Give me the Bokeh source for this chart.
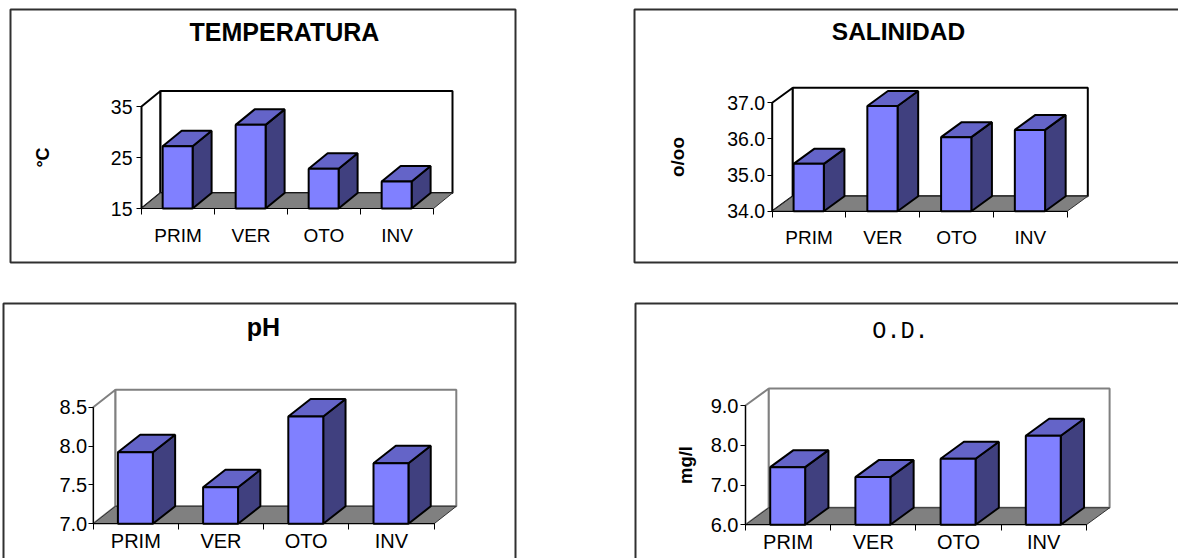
from bokeh.plotting import figure
from bokeh.layouts import column, row
from bokeh.models import Range1d, FixedTicker, BoxAnnotation, Label, ColumnDataSource, PrintfTickFormatter
from bokeh.embed import file_html
from bokeh.resources import INLINE

# ---------------- data ----------------
categories = ["PRIM", "VER", "OTO", "INV"]
temperatura = [27.2, 31.4, 22.8, 20.3]
salinidad = [35.31, 36.91, 36.05, 36.25]
ph = [7.92, 7.47, 8.38, 7.78]
oxigeno = [7.45, 7.20, 7.66, 8.24]
temp_ticks = [15, 25, 35]
sal_ticks = [34.0, 35.0, 36.0, 37.0]
ph_ticks = [7.0, 7.5, 8.0, 8.5]
od_ticks = [6.0, 7.0, 8.0, 9.0]

# ---------------- styles ----------------
FRONT = "#8080FF"
TOP = "#6464C8"
SIDE = "#40407F"
FLOOR = "#808080"
BAR_L, BAR_R = 0.29, 0.70
SANS = "Liberation Sans"
MONO = "Liberation Mono"


def make_panel(values, ticks, fmt, cfg):
    W, H = cfg["W"], cfg["H"]
    ox, oy = cfg["origin"]
    ax = cfg["axis_x"] - ox          # canvas x of front y-axis
    fy = cfg["floor_y"] - oy         # canvas y of floor front edge
    ymin, ymax = ticks[0], ticks[-1]
    unit_px = (cfg["floor_y"] - cfg["ytop_y"]) / (ymax - ymin)
    cat_px = cfg["cat_px"]
    x_range = Range1d(-ax / cat_px, (W - ax) / cat_px)
    y_range = Range1d(ymin - (H - fy) / unit_px, ymin + fy / unit_px)
    n = len(categories)
    DX = cfg["dx"] / cat_px
    DY = cfg["dy"] / unit_px

    p = figure(width=W, height=H, x_range=x_range, y_range=y_range,
               output_backend="svg", toolbar_location=None,
               min_border_left=0, min_border_right=0, min_border_top=0, min_border_bottom=0,
               outline_line_color=None, background_fill_color="white", border_fill_color="white")
    p.grid.visible = False

    wall = cfg["wall"]
    # side wall, back wall, floor
    p.patch([0, 0, DX, DX], [ymin, ymax, ymax + DY, ymin + DY],
            fill_color="white", line_color=wall, line_width=2)
    p.quad(left=[DX], right=[n + DX], bottom=[ymin + DY], top=[ymax + DY],
           fill_color="white", line_color=wall, line_width=2)
    p.patch([0, n, n + DX, DX], [ymin, ymin, ymin + DY, ymin + DY],
            fill_color=FLOOR, line_color="#303030", line_width=1)

    # bars
    lefts = [i + BAR_L for i in range(n)]
    rights = [i + BAR_R for i in range(n)]
    front = ColumnDataSource(dict(left=lefts, right=rights, bottom=[ymin] * n, top=values))
    tops = ColumnDataSource(dict(
        xs=[[l, r, r + DX, l + DX] for l, r in zip(lefts, rights)],
        ys=[[v, v, v + DY, v + DY] for v in values]))
    sides = ColumnDataSource(dict(
        xs=[[r, r, r + DX, r + DX] for r in rights],
        ys=[[ymin, v, v + DY, ymin + DY] for v in values]))
    p.patches("xs", "ys", source=sides, fill_color=SIDE, line_color="black", line_width=2)
    p.patches("xs", "ys", source=tops, fill_color=TOP, line_color="black", line_width=2)
    p.quad(left="left", right="right", bottom="bottom", top="top", source=front,
           fill_color=FRONT, line_color="black", line_width=2)

    # x axis (front edge of the floor)
    xa = p.xaxis[0]
    xa.fixed_location = ymin
    xa.ticker = FixedTicker(ticks=[i + 0.5 for i in range(n)], minor_ticks=list(range(n + 1)))
    xa.major_label_overrides = {i + 0.5: c for i, c in enumerate(categories)}
    xa.bounds = (0, n)
    xa.major_tick_line_color = None
    xa.major_tick_out = 0
    xa.major_tick_in = 0
    xa.minor_tick_line_color = "black"
    xa.minor_tick_out = 6
    xa.minor_tick_in = 0
    xa.axis_line_color = "black"
    xa.major_label_text_font = SANS
    xa.major_label_text_font_size = cfg["cat_size"]
    xa.major_label_text_color = "black"
    xa.major_label_standoff = cfg["xstandoff"]

    # y axis (front left edge)
    ya = p.yaxis[0]
    ya.fixed_location = 0
    ya.ticker = FixedTicker(ticks=ticks)
    ya.formatter = PrintfTickFormatter(format=fmt)
    ya.bounds = (ymin, ymax)
    ya.major_tick_out = 5
    ya.major_tick_in = 0
    ya.major_tick_line_color = "black"
    ya.minor_tick_line_color = None
    ya.axis_line_color = "black"
    ya.major_label_text_font = SANS
    ya.major_label_text_font_size = cfg["tick_size"]
    ya.major_label_text_color = "black"
    ya.major_label_standoff = cfg["ystandoff"]
    if cfg.get("ylabel"):
        ya.axis_label = cfg["ylabel"]
        ya.axis_label_text_font = SANS
        ya.axis_label_text_font_style = "bold"
        ya.axis_label_text_font_size = cfg["ylabel_size"]
        ya.axis_label_text_color = "black"
        ya.axis_label_standoff = cfg["ylabel_standoff"]

    # title
    tx = (cfg["title_x"] - cfg["axis_x"]) / cat_px
    ty = ymin + (cfg["floor_y"] - cfg["title_mid"]) / unit_px
    p.add_layout(Label(x=tx, y=ty, text=cfg["title"], text_align="center", text_baseline="middle",
                       text_font=cfg["title_font"], text_font_size=cfg["title_size"],
                       text_font_style=cfg["title_style"], text_color="black"))

    # panel frame
    b = cfg["border"]
    p.add_layout(BoxAnnotation(left=b[0] - ox, right=b[2] - ox, top=b[1] - oy, bottom=b[3] - oy,
                               left_units="canvas", right_units="canvas",
                               top_units="canvas", bottom_units="canvas",
                               fill_alpha=0, fill_color=None, line_color="#303030",
                               line_alpha=1.0, line_width=2, level="overlay"))
    return p


cfg1 = dict(W=575, H=282, origin=(0, 0), axis_x=141, floor_y=208, ytop_y=106, cat_px=73,
            dx=19, dy=15.5, wall="black", cat_size="19px", tick_size="19.5px", xstandoff=10, ystandoff=4,
            ylabel="°C", ylabel_size="18px", ylabel_standoff=55,
            title="TEMPERATURA", title_x=284, title_mid=31.7, title_font=SANS, title_size="25px",
            title_style="bold", border=(10, 9, 515, 262))
cfg2 = dict(W=603, H=282, origin=(575, 0), axis_x=771.7, floor_y=210.7, ytop_y=102.3, cat_px=73.75,
            dx=20.6, dy=15, wall="black", cat_size="19px", tick_size="19.5px", xstandoff=10, ystandoff=2,
            ylabel="o/oo", ylabel_size="19px", ylabel_standoff=37,
            title="SALINIDAD", title_x=898, title_mid=31, title_font=SANS, title_size="24.5px",
            title_style="bold", border=(634, 9, 1300, 262))
cfg3 = dict(W=575, H=276, origin=(0, 282), axis_x=92.7, floor_y=523.3, ytop_y=406.7, cat_px=85.2,
            dx=22.3, dy=17.5, wall="#808080", cat_size="20px", tick_size="20px", xstandoff=0, ystandoff=1,
            ylabel=None,
            title="pH", title_x=263, title_mid=326, title_font=SANS, title_size="25px",
            title_style="bold", border=(3, 303, 515, 700))
cfg4 = dict(W=603, H=276, origin=(575, 282), axis_x=745, floor_y=524.3, ytop_y=405, cat_px=85.2,
            dx=23.3, dy=17, wall="#808080", cat_size="20px", tick_size="20px", xstandoff=0, ystandoff=2,
            ylabel="mg/l", ylabel_size="18.5px", ylabel_standoff=12,
            title="O.D.", title_x=900, title_mid=331, title_font=MONO, title_size="23.5px",
            title_style="normal", border=(635, 303, 1300, 700))

p1 = make_panel(temperatura, temp_ticks, "%d", cfg1)
p2 = make_panel(salinidad, sal_ticks, "%.1f", cfg2)
p3 = make_panel(ph, ph_ticks, "%.1f", cfg3)
p4 = make_panel(oxigeno, od_ticks, "%.1f", cfg4)

layout = column(row(p1, p2), row(p3, p4))
open("out.html", "w").write(file_html(layout, INLINE))
